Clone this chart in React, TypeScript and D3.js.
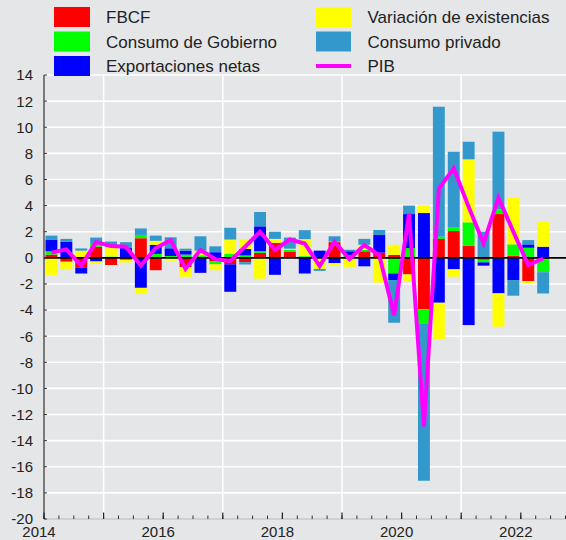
import React from "react";
import * as d3 from "d3";

const quarters = d3.range(34).map((i) => 2014 + i * 0.25);

const fbcf = [0.25, -0.3, -0.75, 0.85, -0.55, -0.15, 1.5, -0.95, 0, -0.7, 0, -0.25, -0.5, -0.33, 0.38, 1.15, 0.45, 0, 0, 1.2, 0, 0.5, 0.4, 0.22, -1.27, -3.95, 1.44, 2.05, 0.93, -0.15, 3.35, 0.16, -1.78, -0.1];
const gobierno = [0.25, 0, 0, 0.2, 0.1, 0, 0.25, 0.3, 0.14, 0.25, 0.2, -0.25, 0.3, 0.18, 0.13, 0, 0.15, 0.13, 0.05, 0.05, 0.2, 0.1, 0, -1.2, 0.75, -1.07, 0.18, 0.26, 1.79, -0.2, 0.36, 0.87, 0.77, -1.0];
const exportaciones = [0.9, 1.22, -0.45, -0.28, 0, 0.75, -2.3, 0.7, 0.59, 0.3, -1.15, 0.43, -2.1, 0.5, 1.9, -1.3, 0, -1.2, 0.5, -0.4, 0.3, -0.65, 1.35, -0.5, 2.6, 3.43, -3.44, -0.88, -5.15, -0.25, -2.72, -1.7, 0.26, 0.85];
const existencias = [-1.3, -0.55, 0.55, -0.15, 0.75, -0.2, -0.4, 0.3, -0.22, -0.75, 0.35, -0.45, 1.1, 0.75, -1.6, 0.3, 0.1, 1.3, -0.85, -0.15, -0.7, 0.4, -1.9, 0.78, -0.5, 0.6, -2.8, -0.56, 4.82, 0, -2.55, 3.57, -0.17, 1.92];
const privado = [0.3, 0.23, 0.17, 0.5, 0.4, 0.45, 0.5, 0.4, 0.84, 0.15, 1.1, 0.45, 0.9, -0.18, 1.1, 0.55, 0.85, 0.69, -0.15, 0.4, 0.12, 0.45, 0.38, -3.27, 0.65, -12.05, 9.95, 5.81, 1.35, 2.0, 5.95, -1.2, 0.33, -1.63];
const pib = [0.4, 0.65, -0.6, 1.2, 0.9, 0.85, -0.6, 0.75, 1.35, -0.85, 0.6, -0.1, -0.25, 0.85, 2.0, 0.6, 1.4, 1.1, -0.63, 1.23, -0.1, 0.98, 0.2, -4.4, 3.4, -12.9, 5.3, 6.85, 3.9, 1.1, 4.6, 2.0, -0.55, -0.05];

const seriesKeys = ["FBCF", "Consumo de Gobierno", "Exportaciones netas", "Variación de existencias", "Consumo privado"];
const seriesColors = ["#ff0000", "#00ff00", "#0000ff", "#ffff00", "#3399cc"];
const yTicks = d3.range(-20, 15, 2);
const xLabelYears = [2014, 2016, 2018, 2020, 2022];

const W = 566;
const H = 540;
const BG = "#e5e6e8";
const FONT = "'Liberation Sans', Arial, Helvetica, sans-serif";

export default function App() {
  const x = d3.scaleLinear().domain([2014, 2023]).range([44, 44 + 9 * 59.6]);
  const y = d3.scaleLinear().domain([-20, 14]).range([519, 75]);
  const qw = x(2014.25) - x(2014);
  const bw = qw * 0.8;

  const table = quarters.map((q, i) => ({
    q,
    [seriesKeys[0]]: fbcf[i],
    [seriesKeys[1]]: gobierno[i],
    [seriesKeys[2]]: exportaciones[i],
    [seriesKeys[3]]: existencias[i],
    [seriesKeys[4]]: privado[i],
  }));
  const stacked = d3.stack<any>().keys(seriesKeys).offset(d3.stackOffsetDiverging)(table);

  const line = d3
    .line<number>()
    .x((_, i) => x(quarters[i]) + qw / 2)
    .y((d) => y(d));

  const minorTicks = d3.range(2014, 2023.76, 0.25);
  const years = d3.range(2014, 2024);
  const gridYears = [2015, 2017, 2019, 2021];

  const legendLeft = [
    { label: "FBCF", color: seriesColors[0] },
    { label: "Consumo de Gobierno", color: seriesColors[1] },
    { label: "Exportaciones netas", color: seriesColors[2] },
  ];
  const legendRight = [
    { label: "Variación de existencias", color: seriesColors[3], line: false },
    { label: "Consumo privado", color: seriesColors[4], line: false },
    { label: "PIB", color: "#ff00ff", line: true },
  ];
  const rowY = [17, 41.5, 66];

  return (
    <svg
      width={W}
      height={H}
      style={{ position: "absolute", left: 0, top: 0, background: BG }}
      fontFamily={FONT}
    >
      <rect x={0} y={0} width={W} height={H} fill={BG} />
      {/* grid */}
      {yTicks.map((t) => (
        <line key={"gy" + t} x1={44} x2={W} y1={y(t)} y2={y(t)} stroke="#ffffff" strokeWidth={1.6} />
      ))}
      {gridYears.map((g) => (
        <line key={"gx" + g} x1={x(g)} x2={x(g)} y1={75} y2={519} stroke="#ffffff" strokeWidth={1.6} />
      ))}
      {/* bars */}
      {stacked.map((s, si) => (
        <g key={s.key} fill={seriesColors[si]}>
          {s.map((d, i) => {
            const y0 = Math.min(y(d[0]), y(d[1]));
            const h = Math.abs(y(d[0]) - y(d[1]));
            if (h < 0.01) return null;
            return <rect key={i} x={x(quarters[i]) + (qw - bw) / 2} y={y0} width={bw} height={h} />;
          })}
        </g>
      ))}
      {/* zero line */}
      <line x1={44} x2={W} y1={y(0)} y2={y(0)} stroke="#000" strokeWidth={1.8} />
      {/* PIB */}
      <path d={line(pib) || ""} fill="none" stroke="#ff00ff" strokeWidth={4} strokeLinejoin="miter" />
      {/* axes */}
      <line x1={44} x2={W} y1={519} y2={519} stroke="#a8a8a8" strokeWidth={1} />
      <line x1={44} x2={44} y1={75} y2={519} stroke="#333" strokeWidth={1.2} />
      {yTicks.map((t) => (
        <g key={"yt" + t}>
          <line x1={44} x2={47} y1={y(t)} y2={y(t)} stroke="#333" strokeWidth={1} />
          <text x={33} y={y(t)} dy="0.36em" textAnchor="end" fontSize={15} fill="#222">
            {t}
          </text>
        </g>
      ))}
      {minorTicks.map((t) => (
        <line key={"mt" + t} x1={x(t)} x2={x(t)} y1={519} y2={515.5} stroke="#333" strokeWidth={1} />
      ))}
      {years.map((t) => (
        <line key={"yrt" + t} x1={x(t)} x2={x(t)} y1={519} y2={512.5} stroke="#222" strokeWidth={1.2} />
      ))}
      {xLabelYears.map((t) => (
        <text key={"xl" + t} x={x(t) - 5} y={537} textAnchor="middle" fontSize={15} fill="#222">
          {t}
        </text>
      ))}
      {/* legend */}
      {legendLeft.map((l, i) => (
        <g key={l.label}>
          <rect x={54} y={rowY[i] - 10} width={36} height={20} fill={l.color} />
          <text x={106} y={rowY[i]} dy="0.36em" fontSize={17} fill="#222">
            {l.label}
          </text>
        </g>
      ))}
      {legendRight.map((l, i) => (
        <g key={l.label}>
          {l.line ? (
            <rect x={316} y={rowY[i] - 2} width={35} height={4} fill={l.color} />
          ) : (
            <rect x={316} y={rowY[i] - 10} width={35} height={20} fill={l.color} />
          )}
          <text x={367.5} y={rowY[i]} dy="0.36em" fontSize={17} fill="#222">
            {l.label}
          </text>
        </g>
      ))}
    </svg>
  );
}
